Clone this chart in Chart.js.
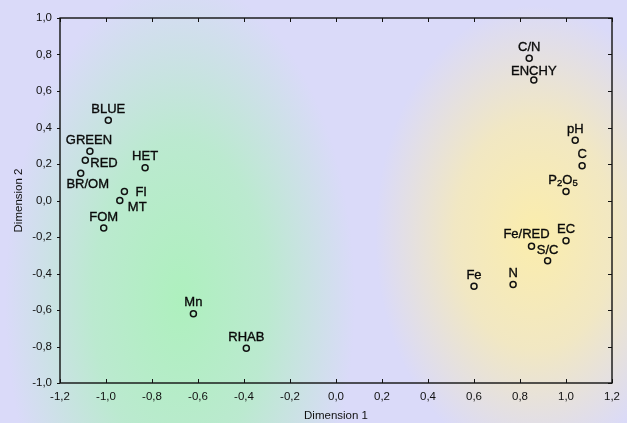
<!DOCTYPE html>
<html>
<head>
<meta charset="utf-8">
<script src="https://cdn.jsdelivr.net/npm/chart.js@4/dist/chart.umd.min.js"></script>
<style>
  html, body { margin: 0; padding: 0; background: #dcdcf8; }
  #wrap { width: 627px; height: 423px; }
</style>
</head>
<body>
<div id="wrap"><canvas id="myChart"></canvas></div>
<script>
// variable names (underscore marks a subscript digit)
const names = ['BLUE', 'GREEN', 'RED', 'BR/OM', 'HET', 'FI', 'MT', 'FOM', 'Mn', 'RHAB',
  'C/N', 'ENCHY', 'pH', 'C', 'P_2O_5', 'EC', 'Fe/RED', 'S/C', 'Fe', 'N'];
const dim1 = [-0.99, -1.07, -1.09, -1.11, -0.83, -0.92, -0.94, -1.01, -0.62, -0.39,
  0.84, 0.86, 1.04, 1.07, 1.00, 1.00, 0.85, 0.92, 0.60, 0.77];
const dim2 = [0.44, 0.27, 0.22, 0.15, 0.18, 0.05, 0.00, -0.15, -0.62, -0.81,
  0.78, 0.66, 0.33, 0.19, 0.05, -0.22, -0.25, -0.33, -0.47, -0.46];
const xTicks = [-1.2, -1.0, -0.8, -0.6, -0.4, -0.2, 0.0, 0.2, 0.4, 0.6, 0.8, 1.0, 1.2];
const yTicks = [-1.0, -0.8, -0.6, -0.4, -0.2, 0.0, 0.2, 0.4, 0.6, 0.8, 1.0];

// where each label sits relative to its point
const labelPos = {
  'RED': [5, 3, 'left'],
  'FI': [11, 1, 'left'],
  'MT': [8, 7, 'left'],
  'BR/OM': [7, 11, 'center'],
  'GREEN': [-1, -11, 'center'],
  'Fe/RED': [-5, -12, 'center'],
  'P_2O_5': [-3, -11, 'center'],
  'ENCHY': [0, -9, 'center'],
  'FOM': [0, -10, 'center'],
  'S/C': [0, -10, 'center']
};

function fmt(v) {
  if (Math.abs(v) < 1e-9) return '0,0';
  return v.toFixed(1).replace('.', ',');
}

const points = names.map((n, i) => ({ x: dim1[i], y: dim2[i], name: n }));

const backdrop = {
  id: 'backdrop',
  beforeDraw(chart) {
    const c = chart.ctx;
    const w = chart.width, h = chart.height;
    c.save();
    c.fillStyle = '#dadaf9';
    c.fillRect(0, 0, w, h);
    function blob(cx, cy, rx, ry, col) {
      c.save();
      c.translate(cx, cy);
      c.scale(1, ry / rx);
      const g = c.createRadialGradient(0, 0, 0, 0, 0, rx);
      g.addColorStop(0, 'rgba(' + col + ',1)');
      g.addColorStop(0.5, 'rgba(' + col + ',0.7)');
      g.addColorStop(1, 'rgba(' + col + ',0)');
      c.fillStyle = g;
      c.fillRect(-rx, -rx, rx * 2, rx * 2);
      c.restore();
    }
    blob(180, 300, 175, 320, '174,240,190');
    blob(535, 235, 160, 230, '251,237,172');
    c.restore();
  }
};

const frame = {
  id: 'frame',
  afterDatasetsDraw(chart) {
    const c = chart.ctx;
    const a = chart.chartArea;
    const sx = chart.scales.x, sy = chart.scales.y;
    c.save();
    c.strokeStyle = '#111';
    c.lineWidth = 1.4;
    c.strokeRect(a.left, a.top, a.right - a.left, a.bottom - a.top);
    c.lineWidth = 1;
    c.beginPath();
    xTicks.forEach(v => {
      const px = Math.round(sx.getPixelForValue(v)) + 0.5;
      c.moveTo(px, a.top); c.lineTo(px, a.top + 4);
      c.moveTo(px, a.bottom); c.lineTo(px, a.bottom - 4);
    });
    yTicks.forEach(v => {
      const py = Math.round(sy.getPixelForValue(v)) + 0.5;
      c.moveTo(a.left, py); c.lineTo(a.left - 3, py);
      c.moveTo(a.right, py); c.lineTo(a.right - 4, py);
    });
    c.stroke();

    // point labels, slightly thickened like the original
    const meta = chart.getDatasetMeta(0);
    c.fillStyle = '#0a0a0a';
    c.strokeStyle = '#0a0a0a';
    c.lineWidth = 0.35;
    c.textBaseline = 'middle';
    meta.data.forEach((el, i) => {
      const name = points[i].name;
      const p = labelPos[name] || [0, -11, 'center'];
      const parts = name.split(/(_\d)/).filter(s => s.length);
      const big = '13px "Liberation Sans", Arial, sans-serif';
      const small = '9.5px "Liberation Sans", Arial, sans-serif';
      let total = 0;
      parts.forEach(s => {
        c.font = s[0] === '_' ? small : big;
        total += c.measureText(s[0] === '_' ? s.slice(1) : s).width;
      });
      let x = el.x + p[0];
      if (p[2] === 'center') x -= total / 2;
      const y = el.y + p[1];
      c.textAlign = 'left';
      parts.forEach(s => {
        if (s[0] === '_') {
          c.font = small;
          c.fillText(s.slice(1), x, y + 3);
          c.strokeText(s.slice(1), x, y + 3);
          x += c.measureText(s.slice(1)).width;
        } else {
          c.font = big;
          c.fillText(s, x, y);
          c.strokeText(s, x, y);
          x += c.measureText(s).width;
        }
      });
    });
    c.restore();
  }
};

const tickFont = { family: '"Liberation Sans", Arial, sans-serif', size: 11.5 };

const ctx = document.getElementById('myChart').getContext('2d');
new Chart(ctx, {
  type: 'scatter',
  data: {
    datasets: [{
      data: points,
      pointRadius: 3,
      pointHoverRadius: 3,
      pointBorderWidth: 1.5,
      borderColor: '#111',
      backgroundColor: 'rgba(0,0,0,0)'
    }]
  },
  plugins: [backdrop, frame],
  options: {
    responsive: true,
    maintainAspectRatio: false,
    animation: false,
    layout: { padding: { top: 18, right: 9, left: 0, bottom: 0 } },
    plugins: {
      legend: { display: false },
      tooltip: { enabled: false }
    },
    scales: {
      x: {
        type: 'linear',
        min: -1.2,
        max: 1.2,
        afterBuildTicks: s => { s.ticks = xTicks.map(v => ({ value: v })); },
        afterFit: s => { s.height = 40; },
        grid: { display: false, drawTicks: false },
        border: { display: false },
        ticks: {
          padding: 7,
          color: '#111',
          font: tickFont,
          callback: v => fmt(v),
          maxRotation: 0,
          autoSkip: false
        },
        title: {
          display: true,
          text: 'Dimension 1',
          color: '#111',
          padding: { top: 0, bottom: 0.5 },
          font: { family: '"Liberation Sans", Arial, sans-serif', size: 11.5 }
        }
      },
      y: {
        type: 'linear',
        min: -1.0,
        max: 1.0,
        afterBuildTicks: s => { s.ticks = yTicks.map(v => ({ value: v })); },
        afterFit: s => { s.width = 60; },
        grid: { display: false, drawTicks: false },
        border: { display: false },
        ticks: {
          padding: 8,
          color: '#111',
          font: tickFont,
          callback: v => fmt(v),
          autoSkip: false
        },
        title: {
          display: true,
          text: 'Dimension 2',
          color: '#111',
          padding: { top: 11.5, bottom: 0 },
          font: { family: '"Liberation Sans", Arial, sans-serif', size: 11.5 }
        }
      }
    }
  }
});
</script>
</body>
</html>
